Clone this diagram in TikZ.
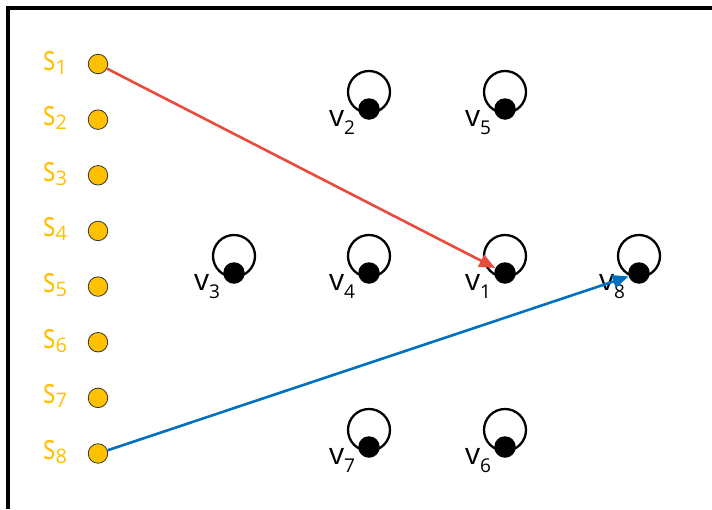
\documentclass[tikz,border=0pt]{standalone}
\usepackage{fontspec}
\setmainfont{Open Sans}
\usetikzlibrary{arrows.meta}
\definecolor{sorange}{HTML}{FFC000}
\definecolor{ared}{HTML}{E84C3D}
\definecolor{ablue}{HTML}{0070C0}
\newcommand{\vlab}[1]{{\fontsize{30}{30}\selectfont v}\raisebox{-8pt}{\fontsize{19}{19}\selectfont #1}}
\newcommand{\slab}[1]{{\fontsize{35}{35}\selectfont\scalebox{0.74}[1]{s}}\raisebox{-4pt}{\fontsize{20}{20}\selectfont #1}}
\tikzset{
  sdot/.style={circle, fill=sorange, draw=black!80, line width=0.8pt, minimum size=19.5pt, inner sep=0pt},
  vdot/.style={circle, fill=black, minimum size=21.5pt, inner sep=0pt},
  loopc/.style={circle, draw=black, line width=2.3pt, minimum size=42pt, inner sep=0pt},
  slabel/.style={text=sorange, inner sep=0pt, anchor=base west},
  vlabel/.style={text=black, inner sep=0pt, anchor=base west},
  edge/.style={line width=2.6pt, -{Triangle[length=16pt,width=13pt]}}
}
\begin{document}
\begin{tikzpicture}[x=1pt,y=-1pt]
\useasboundingbox (0,0) rectangle (712,509);
\fill[white] (0,0) rectangle (712,509);
\draw[line width=4pt] (8,509) -- (8,8) -- (712,8);
\foreach \i in {1,...,8} {
  \pgfmathsetmacro\yy{64+55.64*(\i-1)}
  \node[sdot] (s\i) at (98,\yy) {};
  \node[slabel] (ts\i) at (43,{\yy+6}) {\slab{\i}};
}
\foreach \n/\x/\y in {1/505/273, 2/369/109, 3/234/273, 4/369/273, 5/505/109, 6/505/447, 7/369/447, 8/639/273} {
  \node[loopc] (lv\n) at (\x,{\y-17}) {};
  \node[vdot] (v\n) at (\x,\y) {};
  \node[vlabel] (tv\n) at ({\x-40},{\y+17}) {\vlab{\n}};
}
\draw[edge, ared] (s1) -- (v1);
\draw[edge, ablue] (s8) -- (v8);
\end{tikzpicture}
\end{document}
